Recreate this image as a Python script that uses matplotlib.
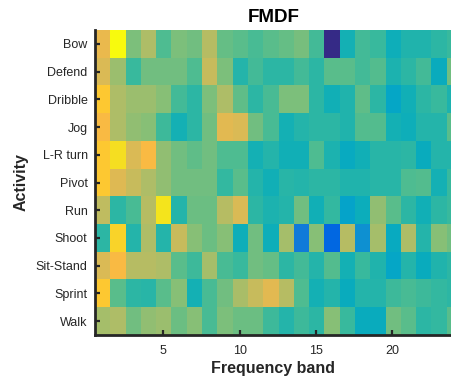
import numpy as np
import matplotlib
matplotlib.use("Agg")
import matplotlib.pyplot as plt
from matplotlib.colors import LinearSegmentedColormap

activities = ["Bow", "Defend", "Dribble", "Jog", "L-R turn", "Pivot", "Run",
              "Shoot", "Sit-Stand", "Sprint", "Walk"]
bands = list(range(1, 25))
xtick_vals = [5, 10, 15, 20]

bow = [50, 63, 38, 43, 34, 38, 37, 44, 36, 35, 33.5, 35, 36, 37.5, 33, 0, 28, 33, 32, 27, 29.5, 29.5, 31, 32]
defend = [48, 41, 32, 37, 37, 37, 34, 46, 38, 30, 33, 31, 31, 33, 31, 35, 35, 33, 34.5, 29, 31, 33, 26, 37]
dribble = [55, 43, 41, 41, 39, 33, 31, 38, 43, 35.5, 31, 33.5, 38, 38, 31, 27.5, 29.5, 35.5, 31, 24, 27.5, 31, 32, 29]
jog = [52, 43, 40, 39, 32.5, 28, 31, 37, 49, 48, 37, 33.5, 28, 30, 31, 31, 29.5, 34.5, 34.5, 28, 27, 30, 30, 35]
lr_turn = [55, 59, 48, 52, 40, 37, 35.5, 37, 34, 34, 28, 30, 27.5, 27.5, 34, 29, 25.5, 27.5, 30.5, 30.5, 31, 26, 30, 30]
pivot = [55, 48.5, 46, 43, 40, 37, 37, 37, 31.5, 35, 30, 27.5, 30.5, 30, 31, 31, 29.5, 29.5, 30.5, 30.5, 34, 34.5, 28, 32]
run = [45, 31, 33.5, 44, 60, 30, 36.5, 36.5, 44, 48, 31, 29, 30, 37, 27.5, 31.5, 23, 26.5, 40, 35, 31, 27.5, 31, 32]
shoot = [31, 57, 30, 43, 30, 46, 39, 36.5, 39, 27, 37, 27, 42, 13.5, 39, 9, 44, 18.5, 42, 25.5, 43, 30, 39, 37]
sit_stand = [48, 52, 44, 44, 43, 35, 32.5, 42, 33.5, 32, 37, 36, 31, 33, 30, 34.5, 28, 32, 29.5, 24, 30, 26, 29.5, 31]
sprint = [55, 35, 31, 30.5, 35, 39, 28, 33.5, 37, 42.5, 46, 49, 44, 34, 28, 30, 26, 30, 30, 32.5, 33.5, 32.5, 31.5, 31]
walk = [42, 43, 37, 40, 41, 36.5, 39, 33.5, 38, 36.5, 36.5, 32.5, 30, 32.5, 31, 39, 32, 26, 26, 37, 35, 31, 31.5, 35]

parula_rgb = [
    (0.2081, 0.1663, 0.5292), (0.2116, 0.1898, 0.5777), (0.2123, 0.2138, 0.6270), (0.2081, 0.2386, 0.6771),
    (0.1959, 0.2645, 0.7279), (0.1707, 0.2919, 0.7792), (0.1253, 0.3242, 0.8303), (0.0591, 0.3598, 0.8683),
    (0.0117, 0.3875, 0.8820), (0.0060, 0.4086, 0.8828), (0.0165, 0.4266, 0.8786), (0.0329, 0.4430, 0.8720),
    (0.0498, 0.4586, 0.8641), (0.0629, 0.4737, 0.8554), (0.0723, 0.4887, 0.8467), (0.0779, 0.5040, 0.8384),
    (0.0793, 0.5200, 0.8312), (0.0749, 0.5375, 0.8263), (0.0641, 0.5570, 0.8240), (0.0488, 0.5772, 0.8228),
    (0.0343, 0.5966, 0.8199), (0.0265, 0.6137, 0.8135), (0.0239, 0.6287, 0.8038), (0.0231, 0.6418, 0.7913),
    (0.0228, 0.6535, 0.7768), (0.0267, 0.6642, 0.7607), (0.0384, 0.6743, 0.7436), (0.0590, 0.6838, 0.7254),
    (0.0843, 0.6928, 0.7062), (0.1133, 0.7015, 0.6859), (0.1453, 0.7098, 0.6646), (0.1801, 0.7177, 0.6424),
    (0.2178, 0.7250, 0.6193), (0.2586, 0.7317, 0.5954), (0.3022, 0.7376, 0.5712), (0.3482, 0.7424, 0.5473),
    (0.3953, 0.7459, 0.5244), (0.4420, 0.7481, 0.5033), (0.4871, 0.7491, 0.4840), (0.5300, 0.7491, 0.4661),
    (0.5709, 0.7485, 0.4494), (0.6099, 0.7473, 0.4337), (0.6473, 0.7456, 0.4188), (0.6834, 0.7435, 0.4044),
    (0.7184, 0.7411, 0.3905), (0.7525, 0.7384, 0.3768), (0.7858, 0.7356, 0.3633), (0.8185, 0.7327, 0.3498),
    (0.8507, 0.7299, 0.3360), (0.8824, 0.7274, 0.3217), (0.9139, 0.7258, 0.3063), (0.9450, 0.7261, 0.2886),
    (0.9739, 0.7314, 0.2666), (0.9938, 0.7455, 0.2403), (0.9990, 0.7653, 0.2164), (0.9955, 0.7861, 0.1967),
    (0.9880, 0.8066, 0.1794), (0.9789, 0.8271, 0.1633), (0.9697, 0.8481, 0.1475), (0.9626, 0.8705, 0.1309),
    (0.9589, 0.8949, 0.1132), (0.9598, 0.9218, 0.0948), (0.9661, 0.9514, 0.0755), (0.9763, 0.9831, 0.0538),
]
parula = LinearSegmentedColormap.from_list("parula", parula_rgb, N=256)

data = np.array([bow, defend, dribble, jog, lr_turn, pivot, run, shoot,
                 sit_stand, sprint, walk])

plt.rcParams['font.family'] = ['Liberation Sans', 'DejaVu Sans']
dark = '#262626'

fig = plt.figure(figsize=(4.52, 3.79), dpi=100)
W, H = 452, 379
left_px, right_px, top_px, bot_px = 94.6, 452.0, 30.0, 335.0
ax = fig.add_axes([left_px / W, 1 - bot_px / H, (right_px - left_px) / W, (bot_px - top_px) / H])

ax.imshow(data, cmap=parula, vmin=0, vmax=63, aspect='auto', interpolation='nearest',
          extent=(bands[0] - 0.5, bands[-1] + 0.5, len(activities) + 0.5, 0.5))
ax.set_xlim(0.5, 0.5 + (right_px - left_px) / 15.27)
ax.set_ylim(len(activities) + 0.5, 0.5)

ax.set_yticks(range(1, len(activities) + 1))
ax.set_yticklabels(activities)
ax.set_xticks(xtick_vals)
ax.set_xticklabels([str(v) for v in xtick_vals])

for s in ['top', 'right']:
    ax.spines[s].set_visible(False)
for s in ['left', 'bottom']:
    ax.spines[s].set_linewidth(2.0)
    ax.spines[s].set_color(dark)

ax.tick_params(axis='both', direction='in', length=3.5, width=1.6, color=dark,
               labelsize=9, labelcolor=dark)
ax.tick_params(axis='y', pad=5)
ax.tick_params(axis='x', pad=7)

ax.set_title("FMDF", fontsize=13.5, fontweight='bold', color='black', pad=6)
ax.set_xlabel("Frequency band", fontsize=11.5, fontweight='bold', color=dark, labelpad=3)
ax.set_ylabel("Activity", fontsize=11.5, fontweight='bold', color=dark, labelpad=5)

fig.savefig("out.png", dpi=100)
